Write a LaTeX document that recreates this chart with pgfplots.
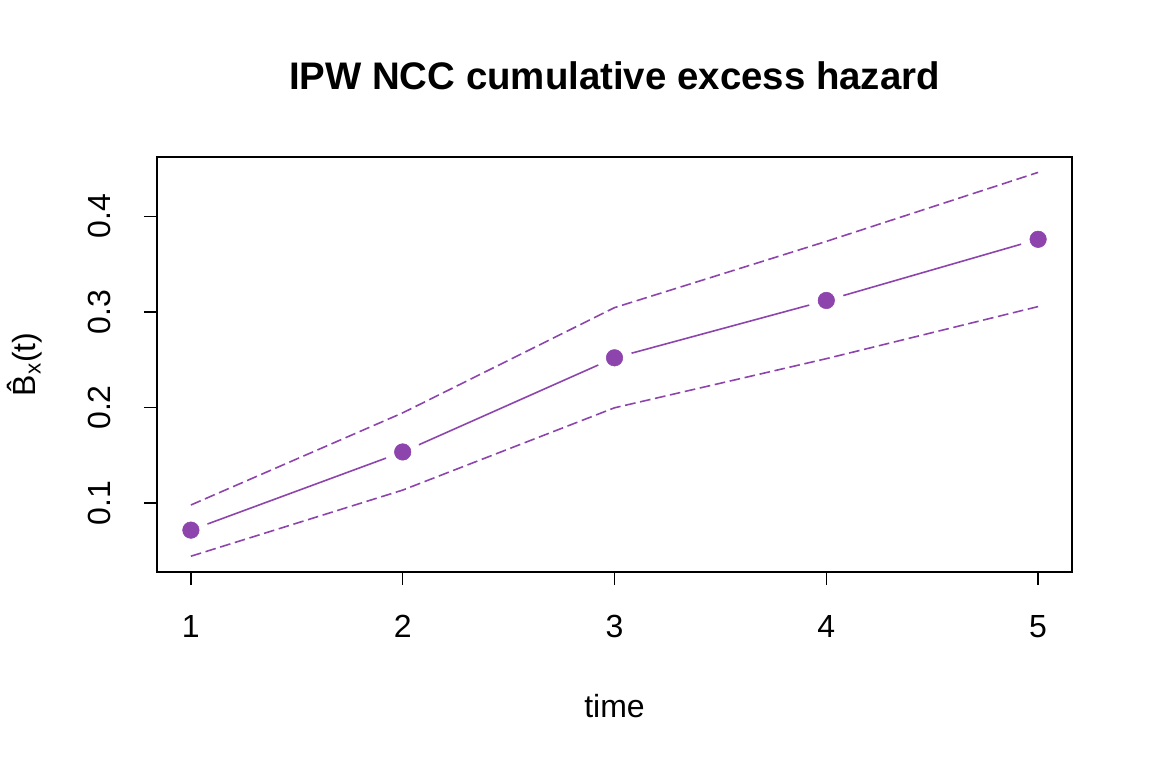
\documentclass[border=0pt]{standalone}
\usepackage{pgfplots}
\pgfplotsset{compat=1.18}
\usepackage{fontspec}
\setmainfont{Liberation Sans}
\definecolor{pur}{RGB}{142,68,173}
\begin{document}
\begin{tikzpicture}
\useasboundingbox (0pt,0pt) rectangle (864pt,576pt);
\begin{axis}[
  at={(117.75pt,147pt)}, anchor=south west,
  scale only axis, width=686.25pt, height=311.25pt,
  xmin=0.84, xmax=5.16, ymin=0.0279, ymax=0.4621,
  axis line style={line width=1pt},
  xtick={1,2,3,4,5}, ytick={0.1,0.2,0.3,0.4},
  yticklabels={0.1,0.2,0.3,0.4},
  tick align=outside, major tick length=9.75pt,
  tick style={line width=1pt, black},
  xtick pos=bottom, ytick pos=left,
  tick label style={font=\fontsize{24}{26}\selectfont},
  /pgf/number format/assume math mode=true,
  xticklabel style={anchor=base, inner sep=0pt, yshift=-39.5pt},
  yticklabel style={rotate=90, anchor=base, inner sep=0pt, yshift=24.75pt},
  title={IPW NCC cumulative excess hazard},
  title style={font=\fontsize{28.8}{30}\bfseries\selectfont, at={(rel axis cs:0.5,1)}, anchor=base, yshift=45pt, inner sep=0pt},
  xlabel={time},
  xlabel style={font=\fontsize{24}{26}\selectfont, at={(rel axis cs:0.5,0)}, anchor=base, yshift=-108.75pt, inner sep=0pt},
  ylabel={\^{B}\textsubscript{x}(t)},
  ylabel style={font=\fontsize{24}{26}\selectfont, at={(rel axis cs:0,0.5)}, anchor=base, yshift=91pt, inner sep=0pt},
  clip=false,
]
\addplot[pur, line width=1.2pt, dash pattern=on 8pt off 3.5pt] coordinates {(1,0.0980) (2,0.1944) (3,0.3045) (4,0.3738) (5,0.4460)};
\addplot[pur, line width=1.2pt, dash pattern=on 8pt off 3.5pt] coordinates {(1,0.0444) (2,0.1136) (3,0.1997) (4,0.2511) (5,0.3056)};
\addplot[pur, line width=1.2pt] coordinates {(1,0.0717) (2,0.1535) (3,0.2520) (4,0.3120) (5,0.3760)};
\addplot[white, only marks, mark=*, mark size=13pt, mark options={draw=white, fill=white}] coordinates {(1,0.0717) (2,0.1535) (3,0.2520) (4,0.3120) (5,0.3760)};
\addplot[pur, only marks, mark=*, mark size=6.2pt, mark options={draw=pur, fill=pur}] coordinates {(1,0.0717) (2,0.1535) (3,0.2520) (4,0.3120) (5,0.3760)};
\end{axis}
\end{tikzpicture}
\end{document}
